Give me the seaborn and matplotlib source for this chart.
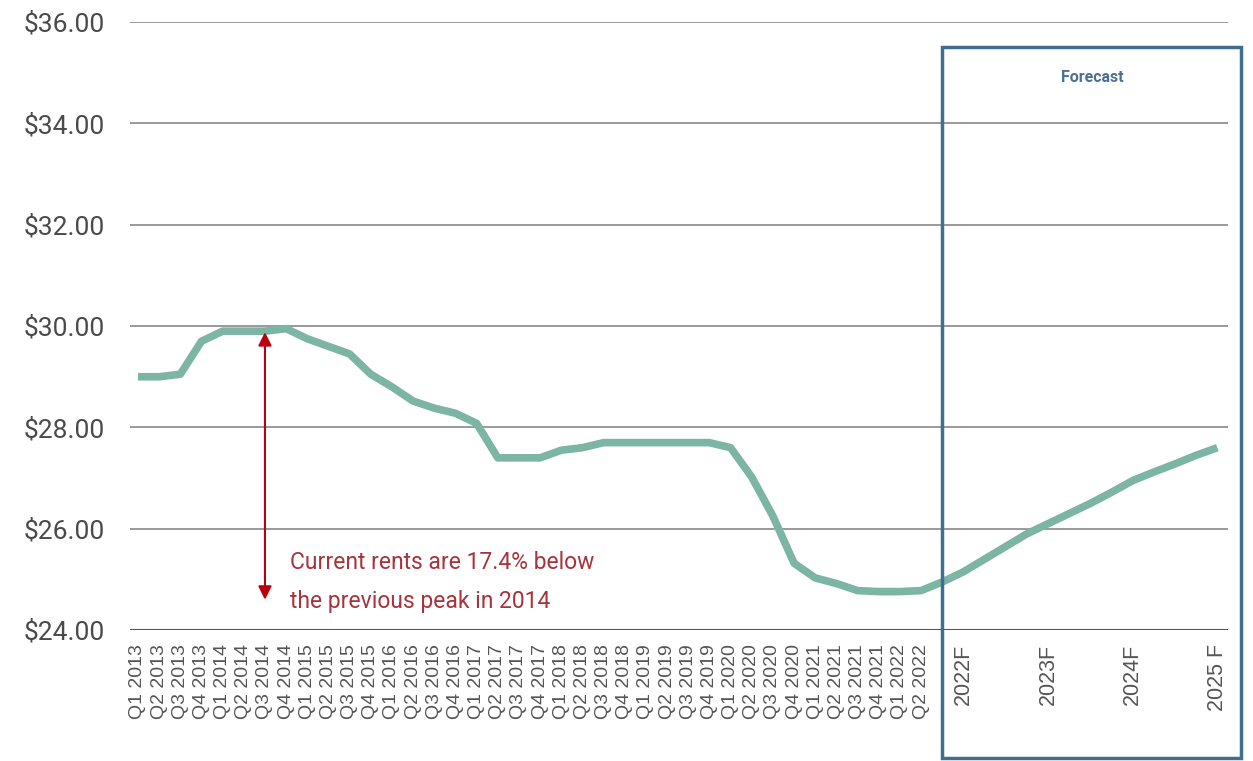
import matplotlib
matplotlib.use("Agg")
import matplotlib.pyplot as plt
from matplotlib import font_manager
from matplotlib.patches import Rectangle
import numpy as np
import pandas as pd
import seaborn as sns

# Quarterly asking rents, Q1 2013 - Q2 2022 (actuals)
actual_labels = [f"Q{q} {y}" for y in range(2013, 2023) for q in range(1, 5)][:38]
actual_rent = [
    29.00, 29.00, 29.05, 29.70, 29.90, 29.90, 29.90, 29.95,
    29.75, 29.60, 29.45, 29.05, 28.80, 28.52, 28.38, 28.28,
    28.08, 27.40, 27.40, 27.40, 27.55, 27.60, 27.70, 27.70,
    27.70, 27.70, 27.70, 27.70, 27.60, 27.02, 26.25, 25.32,
    25.03, 24.92, 24.78, 24.76, 24.76, 24.78,
]

# Forecast path, Q3 2022 - Q4 2025 (quarterly)
forecast_rent = [
    24.95, 25.15, 25.40, 25.65, 25.90, 26.10, 26.30, 26.50,
    26.72, 26.95, 27.12, 27.28, 27.45, 27.60,
]
forecast_labels = ["2022F", "2023F", "2024F", "2025 F"]
forecast_label_quarter = [1, 5, 9, 13]  # Q4 of each forecast year

y_ticks = [24, 26, 28, 30, 32, 34, 36]
note_text = "Current rents are 17.4% below\nthe previous peak in 2014"

available = {f.name for f in font_manager.fontManager.ttflist}
narrow = "Liberation Sans Narrow" if "Liberation Sans Narrow" in available else "Roboto"

sns.set_theme(style="white")
plt.rcParams["font.family"] = ["Liberation Sans", "DejaVu Sans"]

rent = actual_rent + forecast_rent
df = pd.DataFrame({"pos": np.arange(len(rent)), "rent": rent})
n_actual = len(actual_rent)

fig = plt.figure(figsize=(12.53, 7.61), dpi=100)
ax = fig.add_axes([0.1037, 0.172, 0.8763, 0.799])

for v in y_ticks[1:]:
    ax.axhline(v, color="#9a9a9a", lw=1.4, zorder=1)
ax.axhline(24, color="#555555", lw=2.2, zorder=1)

sns.lineplot(data=df, x="pos", y="rent", ax=ax, color="#7db5a5", lw=5.5,
             solid_capstyle="butt", zorder=3)

ax.set_xlim(-0.38, 51.5)
ax.set_ylim(24, 36)
ax.set_yticks(y_ticks)
ax.set_yticklabels([f"${v:.2f}" for v in y_ticks], fontsize=19,
                   color="#4a4a4a", family=narrow)

tick_pos = list(range(n_actual)) + [n_actual + q for q in forecast_label_quarter]
ax.set_xticks(tick_pos)
ax.set_xticklabels(actual_labels + forecast_labels, rotation=90,
                   color="#555555", va="top")
for i, lab in enumerate(ax.get_xticklabels()):
    lab.set_fontsize(14 if i < n_actual else 15.5)
ax.tick_params(axis="x", length=0, pad=10)
ax.tick_params(axis="y", length=0, pad=18)
ax.set_xlabel("")
ax.set_ylabel("")
for s in ax.spines.values():
    s.set_visible(False)

# Forecast frame
ax.add_patch(Rectangle((n_actual, 21.47), 14.1, 35.51 - 21.47, fill=False,
                       edgecolor="#3f6f8f", lw=2.5, clip_on=False, zorder=4))
ax.text(45.1, 34.9, "Forecast", ha="center", va="center", fontsize=11.5,
        fontweight="bold", color="#4c7093", family=narrow)

# Peak-to-current gap
ax.annotate("", xy=(6, 29.88), xytext=(6, 24.6),
            arrowprops=dict(arrowstyle="<|-|>", color="#b8000f", lw=1.5,
                            mutation_scale=20, shrinkA=0, shrinkB=0), zorder=5)
ax.text(7.2, 24.95, note_text, ha="left", va="center", fontsize=16.5,
        color="#a6343c", family=narrow, linespacing=1.9)

fig.savefig("out.png", dpi=100, facecolor="white")
